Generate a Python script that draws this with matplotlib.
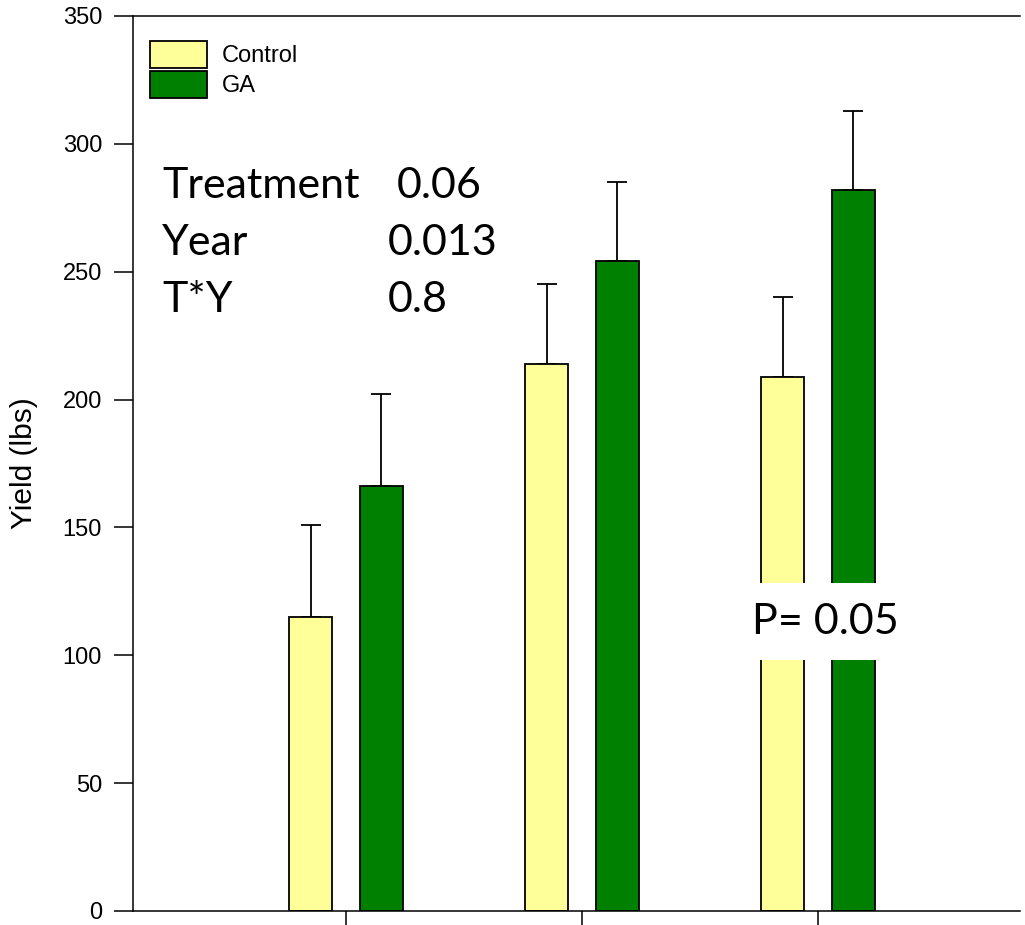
import numpy as np
import matplotlib.pyplot as plt

# bar heights and upper error
groups = [1, 2, 3]
control = [115, 214, 209]
control_err = [36, 31, 31]
ga = [166, 254, 282]
ga_err = [36, 31, 31]

yticks = [0, 50, 100, 150, 200, 250, 300, 350]

plt.rcParams['font.family'] = ['Liberation Sans', 'DejaVu Sans']

fig = plt.figure(figsize=(10.25, 9.25), dpi=100, facecolor='w')
ax = fig.add_axes([0.1298, 0.01514, 0.8652, 0.9676])

x = np.array(groups, dtype=float)
w = 0.18
off = 0.15
ax.bar(x - off, control, w, color='#FFFF99', edgecolor='black', lw=1.3,
       label='Control', zorder=2)
ax.bar(x + off, ga, w, color='#008000', edgecolor='black', lw=1.3,
       label='GA', zorder=2)
ax.errorbar(x - off, control, yerr=[np.zeros(3), control_err], fmt='none',
            ecolor='black', elinewidth=1.3, capsize=7, capthick=1.3, zorder=1)
ax.errorbar(x + off, ga, yerr=[np.zeros(3), ga_err], fmt='none',
            ecolor='black', elinewidth=1.3, capsize=7, capthick=1.3, zorder=1)

ax.set_xlim(0.097, 3.856)
ax.set_ylim(0, 350)
ax.set_yticks(yticks)
ax.set_xticks(groups)
ax.set_xticklabels([])
ax.tick_params(axis='y', length=13.7, width=1.1, pad=8.6, labelsize=17)
ax.tick_params(axis='x', length=11, width=1.1)
ax.spines['right'].set_visible(False)
for s in ('left', 'bottom', 'top'):
    ax.spines[s].set_linewidth(1.1)

ax.set_ylabel('Yield (lbs)', fontsize=21.5)
ax.yaxis.set_label_coords(-0.107, 0.5)

leg = ax.legend(loc='upper left', bbox_to_anchor=(0.019, 0.972), frameon=False,
                fontsize=17, handlelength=2.4, handleheight=1.35,
                handletextpad=0.63, labelspacing=0.15, borderpad=0,
                borderaxespad=0)

# stats annotations
afont = dict(family=['Lato', 'DejaVu Sans'], fontsize=31, va='baseline',
             transform=ax.transAxes)
ax.text(0.0327, 0.7966, 'Treatment', **afont)
ax.text(0.2976, 0.7966, '0.06', **afont)
ax.text(0.0327, 0.733, 'Year', **afont)
ax.text(0.2875, 0.733, '0.013', **afont)
ax.text(0.0327, 0.669, 'T*Y', **afont)
ax.text(0.2875, 0.669, '0.8', **afont)

ax.text(0.698, 108.5, 'P= 0.05', family=['Lato', 'DejaVu Sans'], fontsize=31,
        va='baseline', transform=ax.get_yaxis_transform(), zorder=5,
        bbox=dict(boxstyle='square,pad=0.46', fc='white', ec='none'))

fig.savefig('out.png', dpi=100)
